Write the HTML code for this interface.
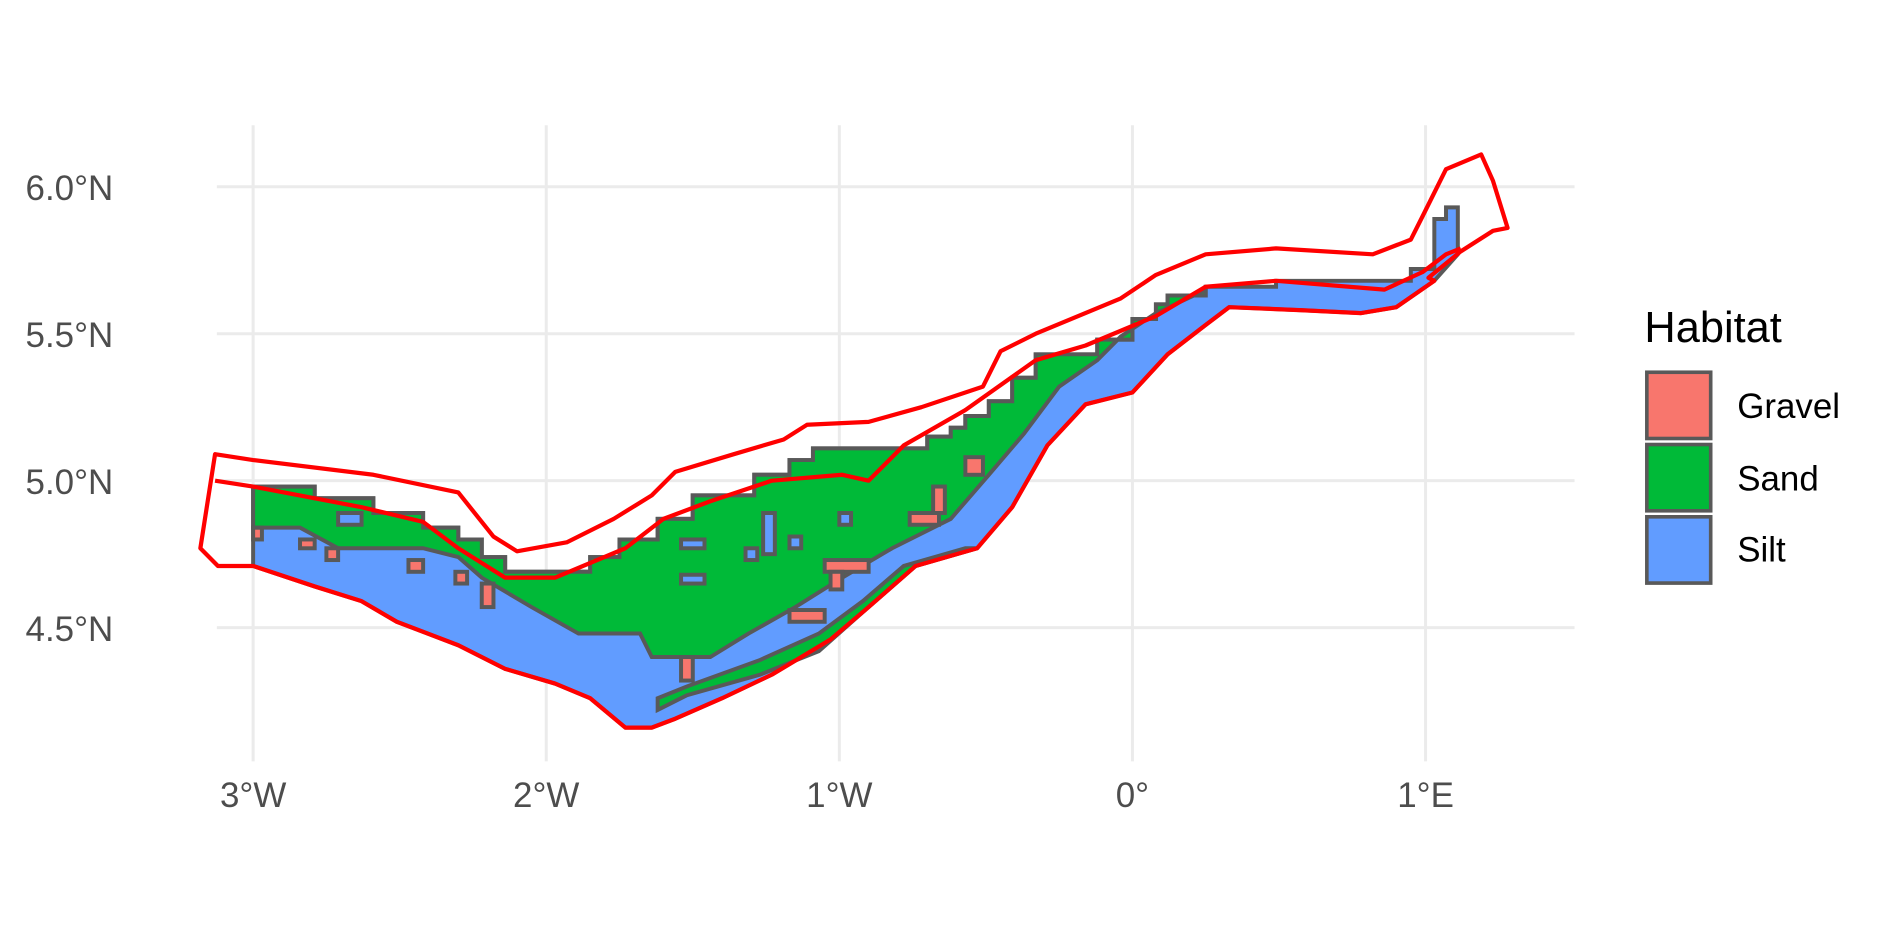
<!DOCTYPE html>
<html><head><meta charset="utf-8">
<style>
html,body{margin:0;padding:0;background:#fff;}
svg{display:block;font-family:"Liberation Sans",sans-serif;}
</style></head>
<body>
<svg id="chart" width="1889" height="944" viewBox="0 0 1568 783.6">
<g id="grid"></g>
<g id="habitat"></g>
<g id="boundary"></g>
<g id="axes"></g>
<g>
<text x="1365" y="284" font-size="36" fill="#000">Habitat</text>
<rect x="1367" y="309" width="53" height="55" fill="#F8766D" stroke="#595959" stroke-width="3"/>
<rect x="1367" y="369" width="53" height="55" fill="#00BA38" stroke="#595959" stroke-width="3"/>
<rect x="1367" y="429" width="53" height="55" fill="#619CFF" stroke="#595959" stroke-width="3"/>
<text x="1442" y="347" font-size="29" fill="#000">Gravel</text>
<text x="1442" y="407" font-size="29" fill="#000">Sand</text>
<text x="1442" y="466" font-size="29" fill="#000">Silt</text>
</g>
</svg>
<script>
const lonTicks=[-3,-2,-1,0,1];
const lonLabels=["3°W","2°W","1°W","0°","1°E"];
const latTicks=[6.0,5.5,5.0,4.5];
const latLabels=["6.0°N","5.5°N","5.0°N","4.5°N"];

const habitatTop=[[-3,4.98],[-2.79,4.98],[-2.79,4.94],[-2.59,4.94],[-2.59,4.89],[-2.42,4.89],[-2.42,4.84],[-2.30,4.84],[-2.30,4.80],[-2.22,4.80],[-2.22,4.74],[-2.14,4.74],[-2.14,4.69],[-1.85,4.69],[-1.85,4.74],[-1.75,4.74],[-1.75,4.80],[-1.62,4.80],[-1.62,4.87],[-1.50,4.87],[-1.50,4.95],[-1.29,4.95],[-1.29,5.02],[-1.17,5.02],[-1.17,5.07],[-1.09,5.07],[-1.09,5.11],[-0.70,5.11],[-0.70,5.15],[-0.62,5.15],[-0.62,5.18],[-0.57,5.18],[-0.57,5.22],[-0.49,5.22],[-0.49,5.27],[-0.41,5.27],[-0.41,5.35],[-0.33,5.35],[-0.33,5.43],[-0.12,5.43],[-0.12,5.48],[0.0,5.48],[0.0,5.55],[0.08,5.55],[0.08,5.60],[0.12,5.60],[0.12,5.63],[0.25,5.63],[0.25,5.66],[0.49,5.66],[0.49,5.68],[0.95,5.68],[0.95,5.72],[1.03,5.72],[1.03,5.89],[1.07,5.89],[1.07,5.93],[1.11,5.93],[1.11,5.77]];
const coastline=[[1.03,5.68],[0.90,5.59],[0.78,5.57],[0.58,5.58],[0.33,5.59],[0.25,5.53],[0.12,5.43],[0,5.30],[-0.16,5.26],[-0.29,5.12],[-0.41,4.91],[-0.53,4.77],[-0.74,4.71],[-0.90,4.57],[-1.03,4.46],[-1.23,4.34],[-1.40,4.26],[-1.56,4.19],[-1.64,4.16],[-1.73,4.16],[-1.85,4.26],[-1.97,4.31],[-2.14,4.36],[-2.30,4.44],[-2.51,4.52],[-2.63,4.59],[-2.79,4.64],[-3,4.71]];
const sandLower=[[0.25,5.65],[0.21,5.63],[0.08,5.57],[-0.04,5.49],[-0.12,5.41],[-0.25,5.32],[-0.37,5.16],[-0.49,5.02],[-0.62,4.87],[-0.82,4.77],[-0.99,4.67],[-1.15,4.57],[-1.31,4.48],[-1.44,4.40],[-1.64,4.40],[-1.68,4.48],[-1.89,4.48],[-2.05,4.57],[-2.22,4.67],[-2.30,4.74],[-2.42,4.77],[-2.71,4.77],[-2.84,4.84],[-3,4.84]];
const coastSand=[[-1.62,4.22],[-1.52,4.27],[-1.27,4.34],[-1.07,4.42],[-0.90,4.57],[-0.74,4.71],[-0.53,4.77],[-0.57,4.77],[-0.78,4.71],[-0.92,4.59],[-1.07,4.48],[-1.27,4.39],[-1.52,4.30],[-1.62,4.26]];
const gravelCells=[[-2.22,4.65,-2.18,4.57],[-1.54,4.40,-1.50,4.32],[-0.68,4.98,-0.64,4.89],[-0.76,4.89,-0.66,4.85],[-1.05,4.73,-0.90,4.69],[-1.03,4.69,-0.99,4.63],[-1.17,4.56,-1.05,4.52],[-3,4.84,-2.97,4.80],[-0.57,5.08,-0.51,5.02],[-2.84,4.80,-2.79,4.77],[-2.75,4.77,-2.71,4.73],[-2.47,4.73,-2.42,4.69],[-2.31,4.69,-2.27,4.65]];
const siltCells=[[-1.54,4.80,-1.46,4.77],[-1.54,4.68,-1.46,4.65],[-1.26,4.89,-1.22,4.75],[-1.17,4.81,-1.13,4.77],[-1.0,4.89,-0.96,4.85],[-1.32,4.77,-1.28,4.73],[-2.71,4.89,-2.63,4.85]];
const outerBoundary=[[-3.13,5.09],[-3,5.07],[-2.59,5.02],[-2.30,4.96],[-2.18,4.81],[-2.10,4.76],[-1.93,4.79],[-1.77,4.87],[-1.64,4.95],[-1.56,5.03],[-1.36,5.09],[-1.19,5.14],[-1.11,5.19],[-0.90,5.20],[-0.72,5.25],[-0.51,5.32],[-0.45,5.44],[-0.33,5.50],[-0.04,5.62],[0.08,5.70],[0.25,5.77],[0.49,5.79],[0.82,5.77],[0.95,5.82],[0.99,5.90],[1.07,6.06],[1.19,6.11],[1.23,6.02],[1.28,5.86],[1.23,5.85],[1.12,5.78],[1.01,5.69]];
const innerBoundary=[[-3.13,5.0],[-3,4.98],[-2.63,4.91],[-2.42,4.86],[-2.30,4.77],[-2.14,4.67],[-1.97,4.67],[-1.73,4.77],[-1.60,4.87],[-1.44,4.93],[-1.23,5.0],[-0.99,5.02],[-0.90,5.0],[-0.78,5.12],[-0.57,5.24],[-0.33,5.41],[-0.16,5.46],[0.08,5.56],[0.25,5.66],[0.49,5.68],[0.86,5.65],[0.99,5.71],[1.07,5.77],[1.12,5.79]];
const boundaryWestTail=[[-3,4.71],[-3.12,4.71],[-3.18,4.77],[-3.13,5.09]];

const NS="http://www.w3.org/2000/svg";
function X(lon){return 940+lon*243.3;}
function Y(lat){return 155+(6-lat)*244;}
function pts(a){return a.map(p=>X(p[0]).toFixed(1)+","+Y(p[1]).toFixed(1)).join(" ");}
function mk(tag,attrs,parent){const e=document.createElementNS(NS,tag);for(const k in attrs)e.setAttribute(k,attrs[k]);parent.appendChild(e);return e;}

const grid=document.getElementById('grid');
lonTicks.forEach(t=>{
  const l=mk('line',{x1:X(t),x2:X(t),y1:104,y2:632,stroke:'#ebebeb','stroke-width':2.5},grid);
  
  
});
latTicks.forEach(t=>{
  const l=mk('line',{x1:180,x2:1307,y1:Y(t),y2:Y(t),stroke:'#ebebeb','stroke-width':2.5},grid);
  
  
});

const hab=document.getElementById('habitat');
const siltPoly=mk('polygon',{points:pts(habitatTop.concat(coastline)),fill:'#619CFF',stroke:'#595959','stroke-width':3.3,'stroke-linejoin':'miter'},hab);


const sandTop=habitatTop.filter(p=>p[0]<=0.25);
const sandPoly=mk('polygon',{points:pts(sandTop.concat(sandLower)),fill:'#00BA38',stroke:'#595959','stroke-width':3.3},hab);


const cs=mk('polygon',{points:pts(coastSand),fill:'#00BA38',stroke:'#595959','stroke-width':3.3},hab);


siltCells.forEach(c=>{
  const r=mk('rect',{x:X(c[0]),y:Y(c[1]),width:X(c[2])-X(c[0]),height:Y(c[3])-Y(c[1]),fill:'#619CFF',stroke:'#595959','stroke-width':3.3},hab);
  
  
});
gravelCells.forEach(c=>{
  const r=mk('rect',{x:X(c[0]),y:Y(c[1]),width:X(c[2])-X(c[0]),height:Y(c[3])-Y(c[1]),fill:'#F8766D',stroke:'#595959','stroke-width':3.3},hab);
  
  
});

const bd=document.getElementById('boundary');
const ob=mk('polygon',{points:pts(outerBoundary.concat(coastline,boundaryWestTail)),fill:'none',stroke:'#FF0000','stroke-width':3.5,'stroke-linejoin':'round'},bd);


const ib=mk('polyline',{points:pts(innerBoundary),fill:'none',stroke:'#FF0000','stroke-width':3.5,'stroke-linejoin':'round'},bd);



const ax=document.getElementById('axes');
lonTicks.forEach((t,i)=>{
  const e=mk('text',{x:X(t),y:670,'text-anchor':'middle','font-size':29,fill:'#4d4d4d'},ax);
  e.textContent=lonLabels[i];
  
  
});
latTicks.forEach((t,i)=>{
  const e=mk('text',{x:94,y:Y(t)+11,'text-anchor':'end','font-size':29,fill:'#4d4d4d'},ax);
  e.textContent=latLabels[i];
  
  
});
</script>
</body></html>
